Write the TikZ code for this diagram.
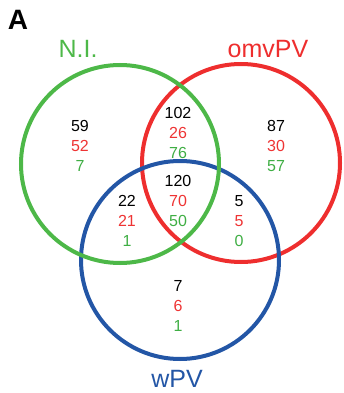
\documentclass[tikz,border=0pt]{standalone}
\usepackage{fontspec}
\setmainfont{Liberation Sans}
\definecolor{vgreen}{HTML}{4DB848}
\definecolor{vred}{HTML}{EE2E2E}
\definecolor{vblue}{HTML}{2356A6}
\definecolor{tgreen}{HTML}{3FAE44}
\definecolor{tred}{HTML}{EE3434}
\tikzset{
  ring/.style={line width=4pt},
  setname/.style={font=\fontsize{25}{25}\selectfont, inner sep=0pt, anchor=base},
  count/.style={font=\fontsize{16}{16}\selectfont, inner sep=0pt, anchor=base}
}
% three stacked counts of one region: total (black), red, green
\newcommand{\regioncounts}[6]{%
  \node[count] (#1-all) at (#2,#3) {#4};
  \node[count, tred] (#1-red) at (#2,#3+20) {#5};
  \node[count, tgreen] (#1-green) at (#2,#3+40) {#6};
}
\begin{document}
\begin{tikzpicture}[x=1pt,y=-1pt]
  \useasboundingbox (0,0) rectangle (343,393);
  % circles: red first, then blue, green on top
  \draw[ring, vred] (241,163) circle (99);
  \draw[ring, vblue] (180,260) circle (99);
  \draw[ring, vgreen] (120,164) circle (99);

  % panel letter and set names
  \node[font=\fontsize{28}{28}\selectfont\bfseries, inner sep=0pt, anchor=base] (panel) at (18,30) {A};
  \node[setname, vgreen] (ni) at (78,58) {N.I.};
  \node[setname, vred] (omv) at (268,58) {omvPV};
  \node[setname, vblue] (wpv) at (177,387) {wPV};

  % region counts (baseline of the first line)
  \regioncounts{gonly}{80}{131}{59}{52}{7}
  \regioncounts{gr}{178}{118}{102}{26}{76}
  \regioncounts{ronly}{276}{131}{87}{30}{57}
  \regioncounts{grb}{178}{186}{120}{70}{50}
  \regioncounts{gb}{127}{206}{22}{21}{1}
  \regioncounts{rb}{239}{206}{5}{5}{0}
  \regioncounts{bonly}{178}{291}{7}{6}{1}
\end{tikzpicture}
\end{document}
